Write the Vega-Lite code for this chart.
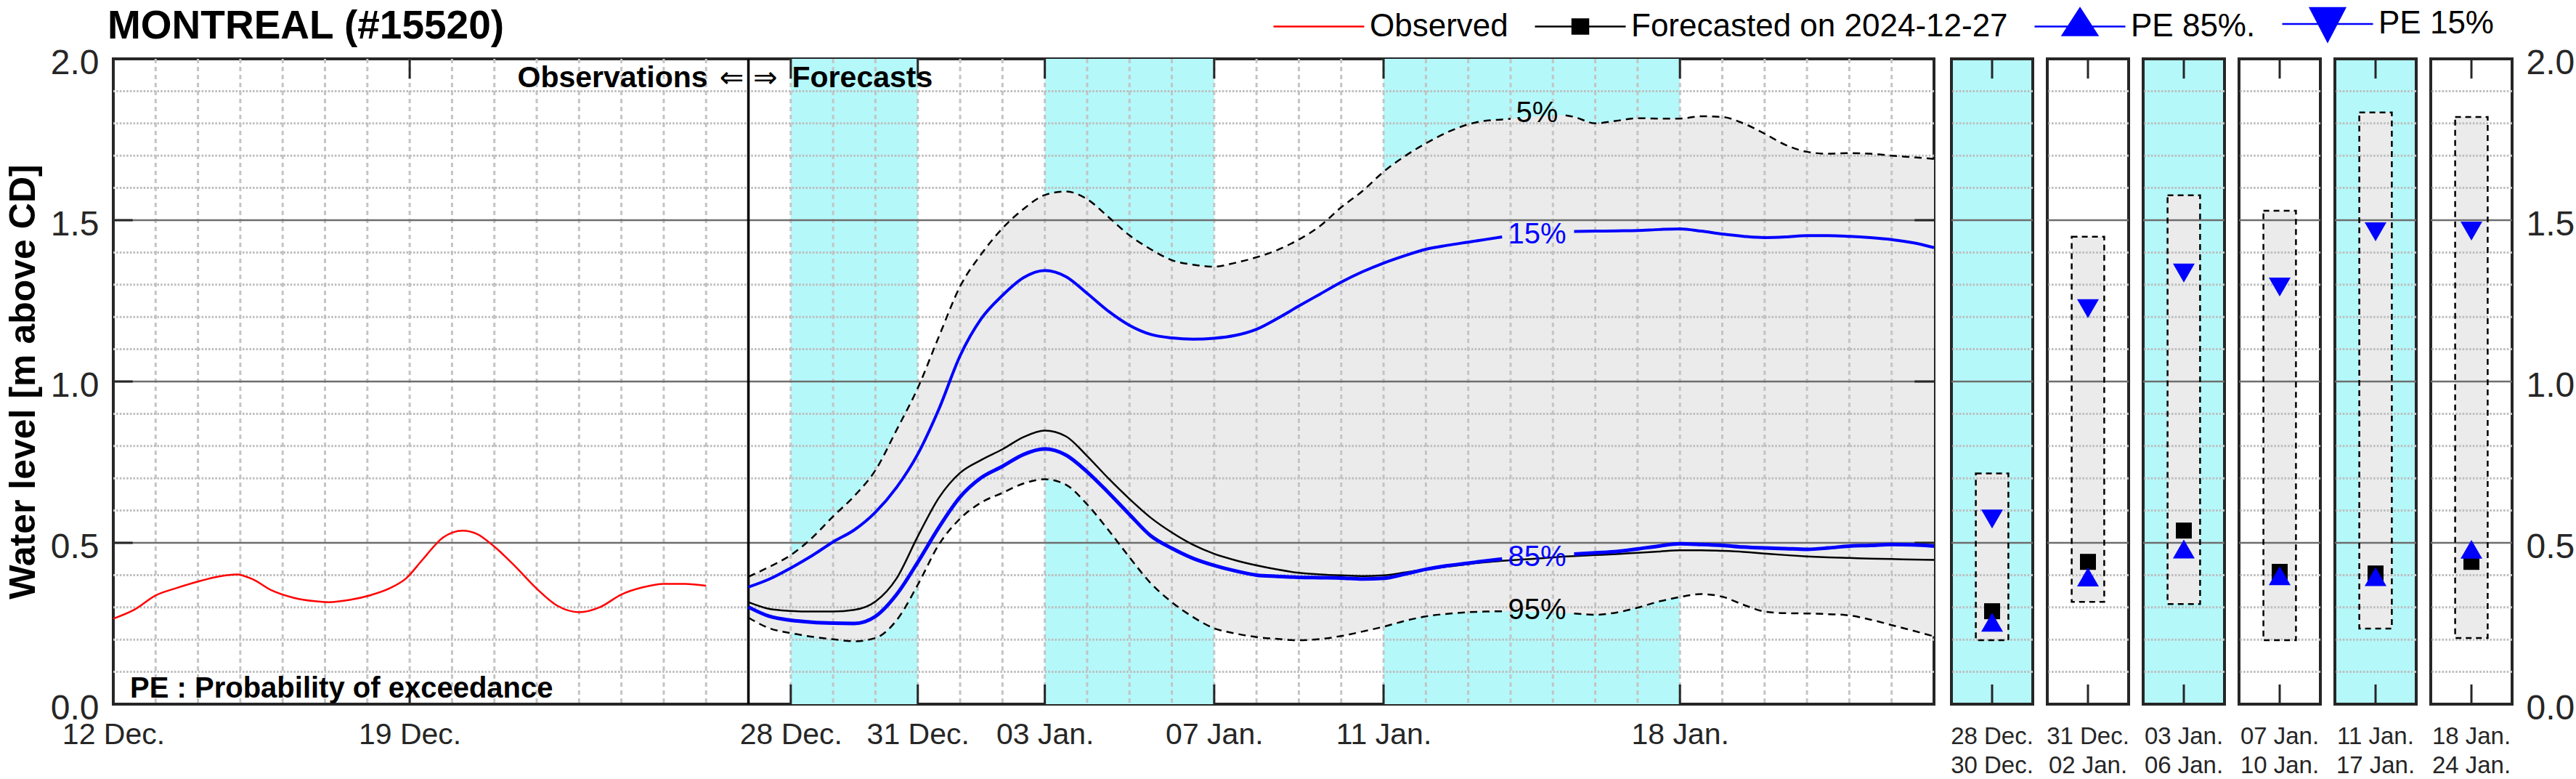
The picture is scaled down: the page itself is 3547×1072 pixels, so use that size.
{
  "$schema": "https://vega.github.io/schema/vega-lite/v6.json",
  "background": "white",
  "padding": {"left": 5, "top": 7, "right": 0, "bottom": 0},
  "config": {
    "font": "Liberation Sans",
    "view": {"stroke": "#262626", "strokeWidth": 4},
    "axis": {"grid": false, "ticks": false, "domain": false, "labelFont": "Liberation Sans", "titleFont": "Liberation Sans", "labelColor": "#262626"}
  },
  "datasets": {
    "obs": [
      {"t":"2024-12-12T00:00","v":0.265},{"t":"2024-12-12T12:00","v":0.293},{"t":"2024-12-13T00:00","v":0.337},{"t":"2024-12-13T12:00","v":0.36},
      {"t":"2024-12-14T00:00","v":0.38},{"t":"2024-12-14T12:00","v":0.396},{"t":"2024-12-14T22:00","v":0.402},{"t":"2024-12-15T07:00","v":0.387},
      {"t":"2024-12-15T18:00","v":0.352},{"t":"2024-12-16T06:00","v":0.33},{"t":"2024-12-16T18:00","v":0.319},{"t":"2024-12-17T02:00","v":0.316},
      {"t":"2024-12-17T14:00","v":0.323},{"t":"2024-12-18T02:00","v":0.338},{"t":"2024-12-18T13:00","v":0.36},{"t":"2024-12-18T22:00","v":0.39},
      {"t":"2024-12-19T07:00","v":0.446},{"t":"2024-12-19T19:00","v":0.517},{"t":"2024-12-20T06:00","v":0.538},{"t":"2024-12-20T14:00","v":0.528},
      {"t":"2024-12-21T00:00","v":0.488},{"t":"2024-12-21T12:00","v":0.426},{"t":"2024-12-22T00:00","v":0.358},{"t":"2024-12-22T12:00","v":0.304},
      {"t":"2024-12-23T00:00","v":0.285},{"t":"2024-12-23T12:00","v":0.301},{"t":"2024-12-24T00:00","v":0.34},{"t":"2024-12-24T12:00","v":0.362},
      {"t":"2024-12-25T00:00","v":0.373},{"t":"2024-12-25T12:00","v":0.373},{"t":"2024-12-26T00:00","v":0.367}
    ],
    "fcst": [
      {"t":"2024-12-27T00:00","p5":0.395,"p15":0.363,"fc":0.316,"p85":0.301,"p95":0.268,"seg":"a","seg5":"a"},
      {"t":"2024-12-27T12:00","p5":0.426,"p15":0.388,"fc":0.295,"p85":0.272,"p95":0.235,"seg":"a","seg5":"a"},
      {"t":"2024-12-28T00:00","p5":0.462,"p15":0.422,"fc":0.289,"p85":0.26,"p95":0.22,"seg":"a","seg5":"a"},
      {"t":"2024-12-28T12:00","p5":0.515,"p15":0.46,"fc":0.287,"p85":0.254,"p95":0.209,"seg":"a","seg5":"a"},
      {"t":"2024-12-29T00:00","p5":0.582,"p15":0.503,"fc":0.287,"p85":0.251,"p95":0.201,"seg":"a","seg5":"a"},
      {"t":"2024-12-29T12:00","p5":0.645,"p15":0.54,"fc":0.292,"p85":0.25,"p95":0.195,"seg":"a","seg5":"a"},
      {"t":"2024-12-30T00:00","p5":0.725,"p15":0.595,"fc":0.318,"p85":0.272,"p95":0.205,"seg":"a","seg5":"a"},
      {"t":"2024-12-30T12:00","p5":0.85,"p15":0.672,"fc":0.39,"p85":0.34,"p95":0.26,"seg":"a","seg5":"a"},
      {"t":"2024-12-31T00:00","p5":0.98,"p15":0.775,"fc":0.52,"p85":0.44,"p95":0.37,"seg":"a","seg5":"a"},
      {"t":"2024-12-31T12:00","p5":1.14,"p15":0.915,"fc":0.64,"p85":0.548,"p95":0.495,"seg":"a","seg5":"a"},
      {"t":"2025-01-01T00:00","p5":1.295,"p15":1.08,"fc":0.717,"p85":0.642,"p95":0.575,"seg":"a","seg5":"a"},
      {"t":"2025-01-01T12:00","p5":1.395,"p15":1.195,"fc":0.757,"p85":0.702,"p95":0.625,"seg":"a","seg5":"a"},
      {"t":"2025-01-02T00:00","p5":1.475,"p15":1.267,"fc":0.79,"p85":0.737,"p95":0.655,"seg":"a","seg5":"a"},
      {"t":"2025-01-02T12:00","p5":1.535,"p15":1.322,"fc":0.828,"p85":0.774,"p95":0.684,"seg":"a","seg5":"a"},
      {"t":"2025-01-03T00:00","p5":1.578,"p15":1.344,"fc":0.848,"p85":0.791,"p95":0.697,"seg":"a","seg5":"a"},
      {"t":"2025-01-03T12:00","p5":1.589,"p15":1.325,"fc":0.83,"p85":0.772,"p95":0.68,"seg":"a","seg5":"a"},
      {"t":"2025-01-04T00:00","p5":1.565,"p15":1.273,"fc":0.769,"p85":0.72,"p95":0.619,"seg":"a","seg5":"a"},
      {"t":"2025-01-04T12:00","p5":1.51,"p15":1.218,"fc":0.7,"p85":0.656,"p95":0.54,"seg":"a","seg5":"a"},
      {"t":"2025-01-05T00:00","p5":1.453,"p15":1.174,"fc":0.636,"p85":0.588,"p95":0.455,"seg":"a","seg5":"a"},
      {"t":"2025-01-05T12:00","p5":1.41,"p15":1.146,"fc":0.578,"p85":0.522,"p95":0.375,"seg":"a","seg5":"a"},
      {"t":"2025-01-06T00:00","p5":1.376,"p15":1.135,"fc":0.532,"p85":0.483,"p95":0.316,"seg":"a","seg5":"a"},
      {"t":"2025-01-06T12:00","p5":1.362,"p15":1.131,"fc":0.494,"p85":0.452,"p95":0.27,"seg":"a","seg5":"a"},
      {"t":"2025-01-07T00:00","p5":1.356,"p15":1.134,"fc":0.466,"p85":0.43,"p95":0.235,"seg":"a","seg5":"a"},
      {"t":"2025-01-07T12:00","p5":1.368,"p15":1.143,"fc":0.446,"p85":0.413,"p95":0.219,"seg":"a","seg5":"a"},
      {"t":"2025-01-08T00:00","p5":1.385,"p15":1.162,"fc":0.43,"p85":0.4,"p95":0.208,"seg":"a","seg5":"a"},
      {"t":"2025-01-08T12:00","p5":1.408,"p15":1.196,"fc":0.417,"p85":0.396,"p95":0.202,"seg":"a","seg5":"a"},
      {"t":"2025-01-09T00:00","p5":1.44,"p15":1.234,"fc":0.407,"p85":0.393,"p95":0.198,"seg":"a","seg5":"a"},
      {"t":"2025-01-09T12:00","p5":1.482,"p15":1.271,"fc":0.402,"p85":0.392,"p95":0.202,"seg":"a","seg5":"a"},
      {"t":"2025-01-10T00:00","p5":1.54,"p15":1.308,"fc":0.399,"p85":0.391,"p95":0.211,"seg":"a","seg5":"a"},
      {"t":"2025-01-10T12:00","p5":1.59,"p15":1.34,"fc":0.397,"p85":0.388,"p95":0.225,"seg":"a","seg5":"a"},
      {"t":"2025-01-11T00:00","p5":1.65,"p15":1.367,"fc":0.399,"p85":0.39,"p95":0.24,"seg":"a","seg5":"a"},
      {"t":"2025-01-11T12:00","p5":1.698,"p15":1.39,"fc":0.408,"p85":0.403,"p95":0.258,"seg":"a","seg5":"a"},
      {"t":"2025-01-12T00:00","p5":1.738,"p15":1.41,"fc":0.418,"p85":0.418,"p95":0.272,"seg":"a","seg5":"a"},
      {"t":"2025-01-12T12:00","p5":1.772,"p15":1.422,"fc":0.426,"p85":0.429,"p95":0.28,"seg":"a","seg5":"a"},
      {"t":"2025-01-13T00:00","p5":1.797,"p15":1.432,"fc":0.434,"p85":0.437,"p95":0.285,"seg":"a","seg5":"a"},
      {"t":"2025-01-13T09:36","p5":1.808,"p15":1.44,"fc":0.44,"p85":0.444,"p95":0.287,"seg":"a","seg5":"a"},
      {"t":"2025-01-13T19:12","p5":1.812,"p15":1.448,"fc":0.444,"p85":0.45,"p95":0.288,"seg":"a","seg5":"a"},
      {"t":"2025-01-14T00:00","p5":1.814,"p15":1.45,"fc":0.446,"p85":0.452,"p95":0.288,"seg":"g","seg5":"a"},
      {"t":"2025-01-14T14:24","p5":1.822,"p15":1.456,"fc":0.451,"p85":0.456,"p95":0.286,"seg":"g","seg5":"g"},
      {"t":"2025-01-15T07:12","p5":1.825,"p15":1.463,"fc":0.458,"p85":0.462,"p95":0.282,"seg":"g","seg5":"b"},
      {"t":"2025-01-15T12:00","p5":1.82,"p15":1.465,"fc":0.459,"p85":0.465,"p95":0.281,"seg":"b","seg5":"b"},
      {"t":"2025-01-16T00:00","p5":1.8,"p15":1.466,"fc":0.462,"p85":0.469,"p95":0.277,"seg":"b","seg5":"b"},
      {"t":"2025-01-16T12:00","p5":1.808,"p15":1.467,"fc":0.465,"p85":0.473,"p95":0.284,"seg":"b","seg5":"b"},
      {"t":"2025-01-17T00:00","p5":1.816,"p15":1.468,"fc":0.469,"p85":0.481,"p95":0.299,"seg":"b","seg5":"b"},
      {"t":"2025-01-17T12:00","p5":1.815,"p15":1.471,"fc":0.473,"p85":0.49,"p95":0.318,"seg":"b","seg5":"b"},
      {"t":"2025-01-18T00:00","p5":1.815,"p15":1.473,"fc":0.477,"p85":0.497,"p95":0.332,"seg":"b","seg5":"b"},
      {"t":"2025-01-18T12:00","p5":1.822,"p15":1.466,"fc":0.477,"p85":0.495,"p95":0.341,"seg":"b","seg5":"b"},
      {"t":"2025-01-19T00:00","p5":1.82,"p15":1.457,"fc":0.475,"p85":0.492,"p95":0.333,"seg":"b","seg5":"b"},
      {"t":"2025-01-19T12:00","p5":1.8,"p15":1.45,"fc":0.472,"p85":0.487,"p95":0.308,"seg":"b","seg5":"b"},
      {"t":"2025-01-20T00:00","p5":1.768,"p15":1.446,"fc":0.467,"p85":0.484,"p95":0.287,"seg":"b","seg5":"b"},
      {"t":"2025-01-20T12:00","p5":1.733,"p15":1.448,"fc":0.462,"p85":0.482,"p95":0.282,"seg":"b","seg5":"b"},
      {"t":"2025-01-21T00:00","p5":1.712,"p15":1.452,"fc":0.458,"p85":0.48,"p95":0.281,"seg":"b","seg5":"b"},
      {"t":"2025-01-21T12:00","p5":1.706,"p15":1.452,"fc":0.455,"p85":0.484,"p95":0.279,"seg":"b","seg5":"b"},
      {"t":"2025-01-22T00:00","p5":1.708,"p15":1.45,"fc":0.453,"p85":0.49,"p95":0.275,"seg":"b","seg5":"b"},
      {"t":"2025-01-22T12:00","p5":1.706,"p15":1.446,"fc":0.451,"p85":0.492,"p95":0.262,"seg":"b","seg5":"b"},
      {"t":"2025-01-23T00:00","p5":1.7,"p15":1.44,"fc":0.45,"p85":0.495,"p95":0.245,"seg":"b","seg5":"b"},
      {"t":"2025-01-23T12:00","p5":1.695,"p15":1.43,"fc":0.448,"p85":0.494,"p95":0.228,"seg":"b","seg5":"b"},
      {"t":"2025-01-24T00:00","p5":1.69,"p15":1.415,"fc":0.447,"p85":0.49,"p95":0.21,"seg":"b","seg5":"b"}
    ],
    "periods": [
      {"p":1,"start":"2024-12-28T00:00","end":"2024-12-31T00:00","lab":"28 Dec.|30 Dec.","shade":true,"lo":0.198,"hi":0.715,"p15":0.574,"fc":0.288,"p85":0.254},
      {"p":2,"start":"2024-12-31T00:00","end":"2025-01-03T00:00","lab":"31 Dec.|02 Jan.","shade":false,"lo":0.317,"hi":1.449,"p15":1.226,"fc":0.441,"p85":0.394},
      {"p":3,"start":"2025-01-03T00:00","end":"2025-01-07T00:00","lab":"03 Jan.|06 Jan.","shade":true,"lo":0.31,"hi":1.577,"p15":1.336,"fc":0.538,"p85":0.481},
      {"p":4,"start":"2025-01-07T00:00","end":"2025-01-11T00:00","lab":"07 Jan.|10 Jan.","shade":false,"lo":0.198,"hi":1.529,"p15":1.293,"fc":0.41,"p85":0.398},
      {"p":5,"start":"2025-01-11T00:00","end":"2025-01-18T00:00","lab":"11 Jan.|17 Jan.","shade":true,"lo":0.234,"hi":1.834,"p15":1.464,"fc":0.405,"p85":0.395},
      {"p":6,"start":"2025-01-18T00:00","end":"2025-01-25T00:00","lab":"18 Jan.|24 Jan.","shade":false,"lo":0.205,"hi":1.82,"p15":1.466,"fc":0.441,"p85":0.48}
    ],
    "gminor": [{"v":0.1},{"v":0.2},{"v":0.3},{"v":0.4},{"v":0.6},{"v":0.7},{"v":0.8},{"v":0.9},{"v":1.1},{"v":1.2},{"v":1.3},{"v":1.4},{"v":1.6},{"v":1.7},{"v":1.8},{"v":1.9}],
    "gmajor": [{"v":0.5},{"v":1.0},{"v":1.5}],
    "gdays": [
      {"t":"2024-12-13T00:00"},{"t":"2024-12-14T00:00"},{"t":"2024-12-15T00:00"},{"t":"2024-12-16T00:00"},{"t":"2024-12-17T00:00"},{"t":"2024-12-18T00:00"},
      {"t":"2024-12-19T00:00"},{"t":"2024-12-20T00:00"},{"t":"2024-12-21T00:00"},{"t":"2024-12-22T00:00"},{"t":"2024-12-23T00:00"},{"t":"2024-12-24T00:00"},
      {"t":"2024-12-25T00:00"},{"t":"2024-12-26T00:00"},{"t":"2024-12-27T00:00"},{"t":"2024-12-28T00:00"},{"t":"2024-12-29T00:00"},{"t":"2024-12-30T00:00"},
      {"t":"2024-12-31T00:00"},{"t":"2025-01-01T00:00"},{"t":"2025-01-02T00:00"},{"t":"2025-01-03T00:00"},{"t":"2025-01-04T00:00"},{"t":"2025-01-05T00:00"},
      {"t":"2025-01-06T00:00"},{"t":"2025-01-07T00:00"},{"t":"2025-01-08T00:00"},{"t":"2025-01-09T00:00"},{"t":"2025-01-10T00:00"},{"t":"2025-01-11T00:00"},
      {"t":"2025-01-12T00:00"},{"t":"2025-01-13T00:00"},{"t":"2025-01-14T00:00"},{"t":"2025-01-15T00:00"},{"t":"2025-01-16T00:00"},{"t":"2025-01-17T00:00"},
      {"t":"2025-01-18T00:00"},{"t":"2025-01-19T00:00"},{"t":"2025-01-20T00:00"},{"t":"2025-01-21T00:00"},{"t":"2025-01-22T00:00"},{"t":"2025-01-23T00:00"}
    ],
    "xticks": [{"t":"2024-12-19T00:00"},{"t":"2024-12-28T00:00"},{"t":"2024-12-31T00:00"},{"t":"2025-01-03T00:00"},{"t":"2025-01-07T00:00"},{"t":"2025-01-11T00:00"},{"t":"2025-01-18T00:00"}],
    "yticks": [{"v":0.5},{"v":1.0},{"v":1.5}],
    "ann": [
      {"t":"2025-01-14T15:00","v":1.83,"txt":"5%","s":"p5"},
      {"t":"2025-01-14T15:00","v":1.456,"txt":"15%","s":"p15"},
      {"t":"2025-01-14T15:00","v":0.455,"txt":"85%","s":"p85"},
      {"t":"2025-01-14T15:00","v":0.29,"txt":"95%","s":"p95"}
    ],
    "div": [
      {"t":"2024-12-27T00:00","v":1.912,"txt":"Observations","side":"L"},
      {"t":"2024-12-27T00:00","v":1.912,"txt":"⇐ ⇒","side":"M"},
      {"t":"2024-12-27T00:00","v":1.912,"txt":"Forecasts","side":"R"}
    ],
    "note": [{"t":"2024-12-12T09:30","v":0.02,"txt":"PE : Probability of exceedance"}],
    "leg": [{"series":"Observed"},{"series":"Forecasted on 2024-12-27"},{"series":"PE 85%."},{"series":"PE 15%"}]
  },
  "bounds": "flush",
  "spacing": 24,
  "hconcat": [
    {
      "width": 2507,
      "height": 888,
      "title": {"text": "MONTREAL (#15520)", "anchor": "start", "frame": "group", "fontSize": 55, "fontWeight": "bold", "font": "Liberation Sans", "color": "#000000", "offset": -45, "baseline": "alphabetic", "dx": -8},
      "layer": [
        {"data": {"name": "periods"}, "transform": [{"filter": "datum.shade"}],
         "mark": {"type": "rect", "fill": "#b4f8fa"},
         "encoding": {"x": {"field": "start", "type": "temporal"}, "x2": {"field": "end"}, "y": {"datum": 0}, "y2": {"datum": 2}}},
        {"data": {"name": "fcst"},
         "mark": {"type": "area", "fill": "#ebebeb", "interpolate": "monotone"},
         "encoding": {
           "x": {"field": "t", "type": "temporal",
                 "scale": {"domain": [{"year":2024,"month":12,"date":12},{"year":2025,"month":1,"date":24}]},
                 "axis": {"title": null, "values": [{"year":2024,"month":12,"date":12},{"year":2024,"month":12,"date":19},{"year":2024,"month":12,"date":28},{"year":2024,"month":12,"date":31},{"year":2025,"month":1,"date":3},{"year":2025,"month":1,"date":7},{"year":2025,"month":1,"date":11},{"year":2025,"month":1,"date":18}],
                          "format": "%d %b.", "labelFontSize": 41, "labelPadding": 22, "labelFlush": false, "labelOverlap": false}},
           "y": {"field": "p5", "type": "quantitative", "scale": {"domain": [0, 2], "nice": false},
                 "axis": {"values": [0, 0.5, 1, 1.5, 2], "format": ".1f", "labelFontSize": 48, "labelPadding": 20, "labelOffset": 6,
                          "title": "Water level [m above CD]", "titleFontSize": 50, "titleFontWeight": "bold", "titleColor": "#000000", "titlePadding": 12}},
           "y2": {"field": "p95"}}},
        {"data": {"name": "gdays"}, "mark": {"type": "rule", "stroke": "#c4c4c4", "strokeWidth": 3, "strokeDash": [6, 5]},
         "encoding": {"x": {"field": "t", "type": "temporal"}}},
        {"data": {"name": "gminor"}, "mark": {"type": "rule", "stroke": "#bdbdbd", "strokeWidth": 3, "strokeDash": [2.5, 2.2]},
         "encoding": {"y": {"field": "v", "type": "quantitative"}}},
        {"data": {"name": "gmajor"}, "mark": {"type": "rule", "stroke": "#6e6e6e", "strokeWidth": 2.5},
         "encoding": {"y": {"field": "v", "type": "quantitative"}}},
        {"data": {"name": "xticks"}, "mark": {"type": "rule", "stroke": "#262626", "strokeWidth": 3},
         "encoding": {"x": {"field": "t", "type": "temporal"}, "y": {"datum": 0}, "y2": {"datum": 0.061}}},
        {"data": {"name": "xticks"}, "mark": {"type": "rule", "stroke": "#262626", "strokeWidth": 3},
         "encoding": {"x": {"field": "t", "type": "temporal"}, "y": {"datum": 1.939}, "y2": {"datum": 2}}},
        {"data": {"name": "yticks"}, "mark": {"type": "rule", "stroke": "#262626", "strokeWidth": 3},
         "encoding": {"y": {"field": "v", "type": "quantitative"}, "x": {"datum": {"year":2024,"month":12,"date":12}, "type": "temporal"}, "x2": {"datum": {"year":2024,"month":12,"date":12,"hours":11}}}},
        {"data": {"name": "yticks"}, "mark": {"type": "rule", "stroke": "#262626", "strokeWidth": 3},
         "encoding": {"y": {"field": "v", "type": "quantitative"}, "x": {"datum": {"year":2025,"month":1,"date":23,"hours":13}, "type": "temporal"}, "x2": {"datum": {"year":2025,"month":1,"date":24}}}},
        {"data": {"name": "div"}, "transform": [{"filter": "datum.side == 'M'"}], "mark": {"type": "rule", "stroke": "#000000", "strokeWidth": 3.5},
         "encoding": {"x": {"field": "t", "type": "temporal"}}},
        {"data": {"name": "fcst"}, "transform": [{"filter": "datum.seg5 != 'g'"}],
         "mark": {"type": "line", "stroke": "#000000", "strokeWidth": 2.5, "strokeDash": [10, 7], "interpolate": "monotone"},
         "encoding": {"x": {"field": "t", "type": "temporal"}, "y": {"field": "p5", "type": "quantitative"}, "detail": {"field": "seg5"}}},
        {"data": {"name": "fcst"}, "transform": [{"filter": "datum.seg != 'g'"}],
         "mark": {"type": "line", "stroke": "#000000", "strokeWidth": 2.5, "strokeDash": [10, 7], "interpolate": "monotone"},
         "encoding": {"x": {"field": "t", "type": "temporal"}, "y": {"field": "p95", "type": "quantitative"}, "detail": {"field": "seg"}}},
        {"data": {"name": "fcst"},
         "mark": {"type": "line", "stroke": "#000000", "strokeWidth": 2.5, "interpolate": "monotone"},
         "encoding": {"x": {"field": "t", "type": "temporal"}, "y": {"field": "fc", "type": "quantitative"}}},
        {"data": {"name": "fcst"}, "transform": [{"filter": "datum.seg != 'g'"}],
         "mark": {"type": "line", "stroke": "#0000ff", "strokeWidth": 4, "interpolate": "monotone"},
         "encoding": {"x": {"field": "t", "type": "temporal"}, "y": {"field": "p15", "type": "quantitative"}, "detail": {"field": "seg"}}},
        {"data": {"name": "fcst"}, "transform": [{"filter": "datum.seg != 'g'"}],
         "mark": {"type": "line", "stroke": "#0000ff", "strokeWidth": 5, "interpolate": "monotone"},
         "encoding": {"x": {"field": "t", "type": "temporal"}, "y": {"field": "p85", "type": "quantitative"}, "detail": {"field": "seg"}}},
        {"data": {"name": "obs"},
         "mark": {"type": "line", "stroke": "#ff0000", "strokeWidth": 2.5, "interpolate": "monotone"},
         "encoding": {"x": {"field": "t", "type": "temporal"}, "y": {"field": "v", "type": "quantitative"}}},
        {"data": {"name": "ann"},
         "mark": {"type": "text", "fontSize": 40, "align": "center", "baseline": "middle", "font": "Liberation Sans"},
         "encoding": {"x": {"field": "t", "type": "temporal"}, "y": {"field": "v", "type": "quantitative"}, "text": {"field": "txt"},
                      "color": {"condition": {"test": "datum.s == 'p15' || datum.s == 'p85'", "value": "#0000ff"}, "value": "#000000"}}},
        {"data": {"name": "div"}, "transform": [{"filter": "datum.side == 'L'"}],
         "mark": {"type": "text", "fontSize": 41, "fontWeight": "bold", "align": "right", "baseline": "alphabetic", "dx": -56, "color": "#000000"},
         "encoding": {"x": {"field": "t", "type": "temporal"}, "y": {"field": "v", "type": "quantitative"}, "text": {"field": "txt"}}},
        {"data": {"name": "div"}, "transform": [{"filter": "datum.side == 'M'"}],
         "mark": {"type": "text", "fontSize": 40, "font": "DejaVu Sans", "align": "center", "baseline": "alphabetic", "dx": 0, "color": "#000000"},
         "encoding": {"x": {"field": "t", "type": "temporal"}, "y": {"field": "v", "type": "quantitative"}, "text": {"field": "txt"}}},
        {"data": {"name": "div"}, "transform": [{"filter": "datum.side == 'R'"}],
         "mark": {"type": "text", "fontSize": 41, "fontWeight": "bold", "align": "left", "baseline": "alphabetic", "dx": 60, "color": "#000000"},
         "encoding": {"x": {"field": "t", "type": "temporal"}, "y": {"field": "v", "type": "quantitative"}, "text": {"field": "txt"}}},
        {"data": {"name": "note"},
         "mark": {"type": "text", "fontSize": 40, "fontWeight": "bold", "align": "left", "baseline": "alphabetic", "color": "#000000"},
         "encoding": {"x": {"field": "t", "type": "temporal"}, "y": {"field": "v", "type": "quantitative"}, "text": {"field": "txt"}}},
        {"data": {"name": "leg"},
         "mark": {"type": "point", "opacity": 0, "filled": true},
         "encoding": {
           "shape": {"field": "series", "type": "nominal",
                     "scale": {"domain": ["Observed", "Forecasted on 2024-12-27", "PE 85%.", "PE 15%"],
                               "range": ["M-3.125,0L3.125,0", "M-3.125,0L3.125,0M-0.55,-0.5L0.55,-0.5L0.55,0.5L-0.55,0.5Z", "M-3.125,0L3.125,0M0,-1.25L1.2,0.6L-1.2,0.6Z", "M-3.125,0L3.125,0M0,1.2L1.2,-1.1L-1.2,-1.1Z"]},
                     "legend": {"title": null, "orient": "none", "legendX": 1638, "legendY": -70, "direction": "horizontal", "columns": 4,
                                "symbolSize": 1600, "symbolOpacity": 1, "symbolStrokeWidth": 2.5, "labelFontSize": 44, "labelFont": "Liberation Sans", "labelColor": "#000000",
                                "labelLimit": 1000, "labelOffset": 48, "columnPadding": 31, "padding": 0,
                                "encode": {"symbols": {"update": {"strokeWidth": {"signal": "indexof(['PE 85%.', 'PE 15%'], datum.value) >= 0 ? 6 : 2.5"}}}}}},
           "fill": {"field": "series", "type": "nominal",
                    "scale": {"domain": ["Observed", "Forecasted on 2024-12-27", "PE 85%.", "PE 15%"], "range": ["#ff0000", "#000000", "#0000ff", "#0000ff"]},
                    "legend": {"title": null, "orient": "none", "legendX": 1638, "legendY": -70, "direction": "horizontal", "columns": 4,
                                "symbolSize": 1600, "symbolOpacity": 1, "labelFontSize": 44, "labelLimit": 1000, "labelOffset": 48, "columnPadding": 31, "padding": 0}},
           "stroke": {"field": "series", "type": "nominal",
                    "scale": {"domain": ["Observed", "Forecasted on 2024-12-27", "PE 85%.", "PE 15%"], "range": ["#ff0000", "#000000", "#0000ff", "#0000ff"]},
                    "legend": {"title": null, "orient": "none", "legendX": 1638, "legendY": -70, "direction": "horizontal", "columns": 4,
                                "symbolSize": 1600, "symbolOpacity": 1, "labelFontSize": 44, "labelLimit": 1000, "labelOffset": 48, "columnPadding": 31, "padding": 0}}
         }}
      ]
    },
    {
      "bounds": "flush",
      "spacing": 20,
      "hconcat": [
        {"width": 112, "height": 888, "view": {"fill": "#b4f8fa"},
         "layer": [
          {"data": {"name": "periods"}, "transform": [{"filter": "datum.p == 1"}], "mark": {"type": "bar", "width": {"band": 0.4}, "fill": "#ebebeb"},
           "encoding": {"x": {"field": "lab", "type": "nominal", "scale": {"paddingInner": 0, "paddingOuter": 0}, "axis": {"title": null, "labelExpr": "split(datum.label, '|')", "labelFontSize": 33, "labelPadding": 28, "labelLineHeight": 40, "labelAngle": 0}},
                        "y": {"field": "lo", "type": "quantitative", "scale": {"domain": [0, 2], "nice": false}, "axis": null}, "y2": {"field": "hi"}}},
          {"data": {"name": "gminor"}, "mark": {"type": "rule", "stroke": "#bdbdbd", "strokeWidth": 3, "strokeDash": [2.5, 2.2]}, "encoding": {"y": {"field": "v", "type": "quantitative", "axis": null}}},
          {"data": {"name": "gmajor"}, "mark": {"type": "rule", "stroke": "#6e6e6e", "strokeWidth": 2.5}, "encoding": {"y": {"field": "v", "type": "quantitative", "axis": null}}},
          {"data": {"name": "periods"}, "transform": [{"filter": "datum.p == 1"}], "mark": {"type": "bar", "width": {"band": 0.4}, "fill": "transparent", "stroke": "#000000", "strokeWidth": 2.5, "strokeDash": [8, 6]},
           "encoding": {"x": {"field": "lab", "type": "nominal"}, "y": {"field": "lo", "type": "quantitative", "axis": null}, "y2": {"field": "hi"}}},
          {"data": {"name": "periods"}, "transform": [{"filter": "datum.p == 1"}], "mark": {"type": "rule", "stroke": "#262626", "strokeWidth": 3},
           "encoding": {"x": {"field": "lab", "type": "nominal"}, "y": {"datum": 0, "axis": null}, "y2": {"datum": 0.061}}},
          {"data": {"name": "periods"}, "transform": [{"filter": "datum.p == 1"}], "mark": {"type": "rule", "stroke": "#262626", "strokeWidth": 3},
           "encoding": {"x": {"field": "lab", "type": "nominal"}, "y": {"datum": 1.939, "axis": null}, "y2": {"datum": 2}}},
          {"data": {"name": "periods"}, "transform": [{"filter": "datum.p == 1"}], "mark": {"type": "point", "shape": "square", "filled": true, "color": "#000000", "size": 484, "opacity": 1},
           "encoding": {"x": {"field": "lab", "type": "nominal"}, "y": {"field": "fc", "type": "quantitative", "axis": null}}},
          {"data": {"name": "periods"}, "transform": [{"filter": "datum.p == 1"}], "mark": {"type": "point", "shape": "triangle-up", "filled": true, "color": "#0000ff", "size": 900, "opacity": 1},
           "encoding": {"x": {"field": "lab", "type": "nominal"}, "y": {"field": "p85", "type": "quantitative", "axis": null}}},
          {"data": {"name": "periods"}, "transform": [{"filter": "datum.p == 1"}], "mark": {"type": "point", "shape": "triangle-down", "filled": true, "color": "#0000ff", "size": 900, "opacity": 1},
           "encoding": {"x": {"field": "lab", "type": "nominal"}, "y": {"field": "p15", "type": "quantitative", "axis": null}}}
         ]},
        {"width": 112, "height": 888,
         "layer": [
          {"data": {"name": "periods"}, "transform": [{"filter": "datum.p == 2"}], "mark": {"type": "bar", "width": {"band": 0.4}, "fill": "#ebebeb"},
           "encoding": {"x": {"field": "lab", "type": "nominal", "scale": {"paddingInner": 0, "paddingOuter": 0}, "axis": {"title": null, "labelExpr": "split(datum.label, '|')", "labelFontSize": 33, "labelPadding": 28, "labelLineHeight": 40, "labelAngle": 0}},
                        "y": {"field": "lo", "type": "quantitative", "scale": {"domain": [0, 2], "nice": false}, "axis": null}, "y2": {"field": "hi"}}},
          {"data": {"name": "gminor"}, "mark": {"type": "rule", "stroke": "#bdbdbd", "strokeWidth": 3, "strokeDash": [2.5, 2.2]}, "encoding": {"y": {"field": "v", "type": "quantitative", "axis": null}}},
          {"data": {"name": "gmajor"}, "mark": {"type": "rule", "stroke": "#6e6e6e", "strokeWidth": 2.5}, "encoding": {"y": {"field": "v", "type": "quantitative", "axis": null}}},
          {"data": {"name": "periods"}, "transform": [{"filter": "datum.p == 2"}], "mark": {"type": "bar", "width": {"band": 0.4}, "fill": "transparent", "stroke": "#000000", "strokeWidth": 2.5, "strokeDash": [8, 6]},
           "encoding": {"x": {"field": "lab", "type": "nominal"}, "y": {"field": "lo", "type": "quantitative", "axis": null}, "y2": {"field": "hi"}}},
          {"data": {"name": "periods"}, "transform": [{"filter": "datum.p == 2"}], "mark": {"type": "rule", "stroke": "#262626", "strokeWidth": 3},
           "encoding": {"x": {"field": "lab", "type": "nominal"}, "y": {"datum": 0, "axis": null}, "y2": {"datum": 0.061}}},
          {"data": {"name": "periods"}, "transform": [{"filter": "datum.p == 2"}], "mark": {"type": "rule", "stroke": "#262626", "strokeWidth": 3},
           "encoding": {"x": {"field": "lab", "type": "nominal"}, "y": {"datum": 1.939, "axis": null}, "y2": {"datum": 2}}},
          {"data": {"name": "periods"}, "transform": [{"filter": "datum.p == 2"}], "mark": {"type": "point", "shape": "square", "filled": true, "color": "#000000", "size": 484, "opacity": 1},
           "encoding": {"x": {"field": "lab", "type": "nominal"}, "y": {"field": "fc", "type": "quantitative", "axis": null}}},
          {"data": {"name": "periods"}, "transform": [{"filter": "datum.p == 2"}], "mark": {"type": "point", "shape": "triangle-up", "filled": true, "color": "#0000ff", "size": 900, "opacity": 1},
           "encoding": {"x": {"field": "lab", "type": "nominal"}, "y": {"field": "p85", "type": "quantitative", "axis": null}}},
          {"data": {"name": "periods"}, "transform": [{"filter": "datum.p == 2"}], "mark": {"type": "point", "shape": "triangle-down", "filled": true, "color": "#0000ff", "size": 900, "opacity": 1},
           "encoding": {"x": {"field": "lab", "type": "nominal"}, "y": {"field": "p15", "type": "quantitative", "axis": null}}}
         ]},
        {"width": 112, "height": 888, "view": {"fill": "#b4f8fa"},
         "layer": [
          {"data": {"name": "periods"}, "transform": [{"filter": "datum.p == 3"}], "mark": {"type": "bar", "width": {"band": 0.4}, "fill": "#ebebeb"},
           "encoding": {"x": {"field": "lab", "type": "nominal", "scale": {"paddingInner": 0, "paddingOuter": 0}, "axis": {"title": null, "labelExpr": "split(datum.label, '|')", "labelFontSize": 33, "labelPadding": 28, "labelLineHeight": 40, "labelAngle": 0}},
                        "y": {"field": "lo", "type": "quantitative", "scale": {"domain": [0, 2], "nice": false}, "axis": null}, "y2": {"field": "hi"}}},
          {"data": {"name": "gminor"}, "mark": {"type": "rule", "stroke": "#bdbdbd", "strokeWidth": 3, "strokeDash": [2.5, 2.2]}, "encoding": {"y": {"field": "v", "type": "quantitative", "axis": null}}},
          {"data": {"name": "gmajor"}, "mark": {"type": "rule", "stroke": "#6e6e6e", "strokeWidth": 2.5}, "encoding": {"y": {"field": "v", "type": "quantitative", "axis": null}}},
          {"data": {"name": "periods"}, "transform": [{"filter": "datum.p == 3"}], "mark": {"type": "bar", "width": {"band": 0.4}, "fill": "transparent", "stroke": "#000000", "strokeWidth": 2.5, "strokeDash": [8, 6]},
           "encoding": {"x": {"field": "lab", "type": "nominal"}, "y": {"field": "lo", "type": "quantitative", "axis": null}, "y2": {"field": "hi"}}},
          {"data": {"name": "periods"}, "transform": [{"filter": "datum.p == 3"}], "mark": {"type": "rule", "stroke": "#262626", "strokeWidth": 3},
           "encoding": {"x": {"field": "lab", "type": "nominal"}, "y": {"datum": 0, "axis": null}, "y2": {"datum": 0.061}}},
          {"data": {"name": "periods"}, "transform": [{"filter": "datum.p == 3"}], "mark": {"type": "rule", "stroke": "#262626", "strokeWidth": 3},
           "encoding": {"x": {"field": "lab", "type": "nominal"}, "y": {"datum": 1.939, "axis": null}, "y2": {"datum": 2}}},
          {"data": {"name": "periods"}, "transform": [{"filter": "datum.p == 3"}], "mark": {"type": "point", "shape": "square", "filled": true, "color": "#000000", "size": 484, "opacity": 1},
           "encoding": {"x": {"field": "lab", "type": "nominal"}, "y": {"field": "fc", "type": "quantitative", "axis": null}}},
          {"data": {"name": "periods"}, "transform": [{"filter": "datum.p == 3"}], "mark": {"type": "point", "shape": "triangle-up", "filled": true, "color": "#0000ff", "size": 900, "opacity": 1},
           "encoding": {"x": {"field": "lab", "type": "nominal"}, "y": {"field": "p85", "type": "quantitative", "axis": null}}},
          {"data": {"name": "periods"}, "transform": [{"filter": "datum.p == 3"}], "mark": {"type": "point", "shape": "triangle-down", "filled": true, "color": "#0000ff", "size": 900, "opacity": 1},
           "encoding": {"x": {"field": "lab", "type": "nominal"}, "y": {"field": "p15", "type": "quantitative", "axis": null}}}
         ]},
        {"width": 112, "height": 888,
         "layer": [
          {"data": {"name": "periods"}, "transform": [{"filter": "datum.p == 4"}], "mark": {"type": "bar", "width": {"band": 0.4}, "fill": "#ebebeb"},
           "encoding": {"x": {"field": "lab", "type": "nominal", "scale": {"paddingInner": 0, "paddingOuter": 0}, "axis": {"title": null, "labelExpr": "split(datum.label, '|')", "labelFontSize": 33, "labelPadding": 28, "labelLineHeight": 40, "labelAngle": 0}},
                        "y": {"field": "lo", "type": "quantitative", "scale": {"domain": [0, 2], "nice": false}, "axis": null}, "y2": {"field": "hi"}}},
          {"data": {"name": "gminor"}, "mark": {"type": "rule", "stroke": "#bdbdbd", "strokeWidth": 3, "strokeDash": [2.5, 2.2]}, "encoding": {"y": {"field": "v", "type": "quantitative", "axis": null}}},
          {"data": {"name": "gmajor"}, "mark": {"type": "rule", "stroke": "#6e6e6e", "strokeWidth": 2.5}, "encoding": {"y": {"field": "v", "type": "quantitative", "axis": null}}},
          {"data": {"name": "periods"}, "transform": [{"filter": "datum.p == 4"}], "mark": {"type": "bar", "width": {"band": 0.4}, "fill": "transparent", "stroke": "#000000", "strokeWidth": 2.5, "strokeDash": [8, 6]},
           "encoding": {"x": {"field": "lab", "type": "nominal"}, "y": {"field": "lo", "type": "quantitative", "axis": null}, "y2": {"field": "hi"}}},
          {"data": {"name": "periods"}, "transform": [{"filter": "datum.p == 4"}], "mark": {"type": "rule", "stroke": "#262626", "strokeWidth": 3},
           "encoding": {"x": {"field": "lab", "type": "nominal"}, "y": {"datum": 0, "axis": null}, "y2": {"datum": 0.061}}},
          {"data": {"name": "periods"}, "transform": [{"filter": "datum.p == 4"}], "mark": {"type": "rule", "stroke": "#262626", "strokeWidth": 3},
           "encoding": {"x": {"field": "lab", "type": "nominal"}, "y": {"datum": 1.939, "axis": null}, "y2": {"datum": 2}}},
          {"data": {"name": "periods"}, "transform": [{"filter": "datum.p == 4"}], "mark": {"type": "point", "shape": "square", "filled": true, "color": "#000000", "size": 484, "opacity": 1},
           "encoding": {"x": {"field": "lab", "type": "nominal"}, "y": {"field": "fc", "type": "quantitative", "axis": null}}},
          {"data": {"name": "periods"}, "transform": [{"filter": "datum.p == 4"}], "mark": {"type": "point", "shape": "triangle-up", "filled": true, "color": "#0000ff", "size": 900, "opacity": 1},
           "encoding": {"x": {"field": "lab", "type": "nominal"}, "y": {"field": "p85", "type": "quantitative", "axis": null}}},
          {"data": {"name": "periods"}, "transform": [{"filter": "datum.p == 4"}], "mark": {"type": "point", "shape": "triangle-down", "filled": true, "color": "#0000ff", "size": 900, "opacity": 1},
           "encoding": {"x": {"field": "lab", "type": "nominal"}, "y": {"field": "p15", "type": "quantitative", "axis": null}}}
         ]},
        {"width": 112, "height": 888, "view": {"fill": "#b4f8fa"},
         "layer": [
          {"data": {"name": "periods"}, "transform": [{"filter": "datum.p == 5"}], "mark": {"type": "bar", "width": {"band": 0.4}, "fill": "#ebebeb"},
           "encoding": {"x": {"field": "lab", "type": "nominal", "scale": {"paddingInner": 0, "paddingOuter": 0}, "axis": {"title": null, "labelExpr": "split(datum.label, '|')", "labelFontSize": 33, "labelPadding": 28, "labelLineHeight": 40, "labelAngle": 0}},
                        "y": {"field": "lo", "type": "quantitative", "scale": {"domain": [0, 2], "nice": false}, "axis": null}, "y2": {"field": "hi"}}},
          {"data": {"name": "gminor"}, "mark": {"type": "rule", "stroke": "#bdbdbd", "strokeWidth": 3, "strokeDash": [2.5, 2.2]}, "encoding": {"y": {"field": "v", "type": "quantitative", "axis": null}}},
          {"data": {"name": "gmajor"}, "mark": {"type": "rule", "stroke": "#6e6e6e", "strokeWidth": 2.5}, "encoding": {"y": {"field": "v", "type": "quantitative", "axis": null}}},
          {"data": {"name": "periods"}, "transform": [{"filter": "datum.p == 5"}], "mark": {"type": "bar", "width": {"band": 0.4}, "fill": "transparent", "stroke": "#000000", "strokeWidth": 2.5, "strokeDash": [8, 6]},
           "encoding": {"x": {"field": "lab", "type": "nominal"}, "y": {"field": "lo", "type": "quantitative", "axis": null}, "y2": {"field": "hi"}}},
          {"data": {"name": "periods"}, "transform": [{"filter": "datum.p == 5"}], "mark": {"type": "rule", "stroke": "#262626", "strokeWidth": 3},
           "encoding": {"x": {"field": "lab", "type": "nominal"}, "y": {"datum": 0, "axis": null}, "y2": {"datum": 0.061}}},
          {"data": {"name": "periods"}, "transform": [{"filter": "datum.p == 5"}], "mark": {"type": "rule", "stroke": "#262626", "strokeWidth": 3},
           "encoding": {"x": {"field": "lab", "type": "nominal"}, "y": {"datum": 1.939, "axis": null}, "y2": {"datum": 2}}},
          {"data": {"name": "periods"}, "transform": [{"filter": "datum.p == 5"}], "mark": {"type": "point", "shape": "square", "filled": true, "color": "#000000", "size": 484, "opacity": 1},
           "encoding": {"x": {"field": "lab", "type": "nominal"}, "y": {"field": "fc", "type": "quantitative", "axis": null}}},
          {"data": {"name": "periods"}, "transform": [{"filter": "datum.p == 5"}], "mark": {"type": "point", "shape": "triangle-up", "filled": true, "color": "#0000ff", "size": 900, "opacity": 1},
           "encoding": {"x": {"field": "lab", "type": "nominal"}, "y": {"field": "p85", "type": "quantitative", "axis": null}}},
          {"data": {"name": "periods"}, "transform": [{"filter": "datum.p == 5"}], "mark": {"type": "point", "shape": "triangle-down", "filled": true, "color": "#0000ff", "size": 900, "opacity": 1},
           "encoding": {"x": {"field": "lab", "type": "nominal"}, "y": {"field": "p15", "type": "quantitative", "axis": null}}}
         ]},
        {"width": 112, "height": 888,
         "layer": [
          {"data": {"name": "periods"}, "transform": [{"filter": "datum.p == 6"}], "mark": {"type": "bar", "width": {"band": 0.4}, "fill": "#ebebeb"},
           "encoding": {"x": {"field": "lab", "type": "nominal", "scale": {"paddingInner": 0, "paddingOuter": 0}, "axis": {"title": null, "labelExpr": "split(datum.label, '|')", "labelFontSize": 33, "labelPadding": 28, "labelLineHeight": 40, "labelAngle": 0}},
                        "y": {"field": "lo", "type": "quantitative", "scale": {"domain": [0, 2], "nice": false},
                              "axis": {"orient": "right", "title": null, "values": [0, 0.5, 1, 1.5, 2], "format": ".1f", "labelFontSize": 48, "labelPadding": 19, "labelOffset": 6}},
                        "y2": {"field": "hi"}}},
          {"data": {"name": "gminor"}, "mark": {"type": "rule", "stroke": "#bdbdbd", "strokeWidth": 3, "strokeDash": [2.5, 2.2]}, "encoding": {"y": {"field": "v", "type": "quantitative"}}},
          {"data": {"name": "gmajor"}, "mark": {"type": "rule", "stroke": "#6e6e6e", "strokeWidth": 2.5}, "encoding": {"y": {"field": "v", "type": "quantitative"}}},
          {"data": {"name": "periods"}, "transform": [{"filter": "datum.p == 6"}], "mark": {"type": "bar", "width": {"band": 0.4}, "fill": "transparent", "stroke": "#000000", "strokeWidth": 2.5, "strokeDash": [8, 6]},
           "encoding": {"x": {"field": "lab", "type": "nominal"}, "y": {"field": "lo", "type": "quantitative"}, "y2": {"field": "hi"}}},
          {"data": {"name": "periods"}, "transform": [{"filter": "datum.p == 6"}], "mark": {"type": "rule", "stroke": "#262626", "strokeWidth": 3},
           "encoding": {"x": {"field": "lab", "type": "nominal"}, "y": {"datum": 0}, "y2": {"datum": 0.061}}},
          {"data": {"name": "periods"}, "transform": [{"filter": "datum.p == 6"}], "mark": {"type": "rule", "stroke": "#262626", "strokeWidth": 3},
           "encoding": {"x": {"field": "lab", "type": "nominal"}, "y": {"datum": 1.939}, "y2": {"datum": 2}}},
          {"data": {"name": "periods"}, "transform": [{"filter": "datum.p == 6"}], "mark": {"type": "point", "shape": "square", "filled": true, "color": "#000000", "size": 484, "opacity": 1},
           "encoding": {"x": {"field": "lab", "type": "nominal"}, "y": {"field": "fc", "type": "quantitative"}}},
          {"data": {"name": "periods"}, "transform": [{"filter": "datum.p == 6"}], "mark": {"type": "point", "shape": "triangle-up", "filled": true, "color": "#0000ff", "size": 900, "opacity": 1},
           "encoding": {"x": {"field": "lab", "type": "nominal"}, "y": {"field": "p85", "type": "quantitative"}}},
          {"data": {"name": "periods"}, "transform": [{"filter": "datum.p == 6"}], "mark": {"type": "point", "shape": "triangle-down", "filled": true, "color": "#0000ff", "size": 900, "opacity": 1},
           "encoding": {"x": {"field": "lab", "type": "nominal"}, "y": {"field": "p15", "type": "quantitative"}}}
         ]}
      ]
    }
  ]
}
